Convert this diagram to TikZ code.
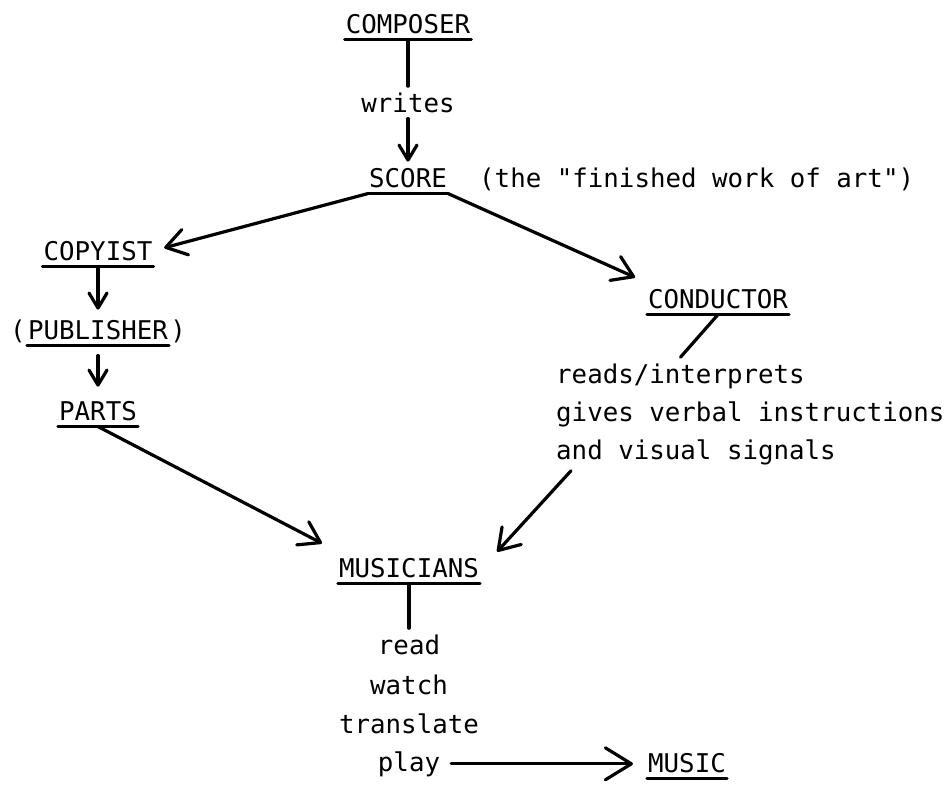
\documentclass[tikz,border=0pt]{standalone}
\usepackage{fontspec}
\setmonofont{DejaVu Sans Mono}
\usetikzlibrary{arrows.meta}
\newcommand{\plotfont}{\ttfamily\fontsize{25.8pt}{30pt}\selectfont}
\tikzset{
  word/.style={font=\plotfont, inner xsep=1pt, inner ysep=6pt, anchor=base},
  uline/.style={line width=3pt},
  link/.style={line width=3.2pt},
  arr/.style={line width=3.2pt, -{Straight Barb[length=20pt,width=26pt,round]}},
  sarr/.style={line width=3.2pt, -{Straight Barb[length=15pt,width=18pt,round]}},
  barr/.style={line width=3.2pt, -{Straight Barb[length=26pt,width=32pt,round]}},
}
\begin{document}
\begin{tikzpicture}[x=1pt, y=-1pt, line cap=round]
	\useasboundingbox (0,0) rectangle (948,785);
	% top
	\node[word] (composer) at (408,33) {COMPOSER};
	\node[word] (writes) at (408,112) {writes};
	\node[word] (score) at (408,187) {SCORE};
	\node[word, anchor=base west] (artnote) at (478,187) {(the "finished work of art")};
	% left branch
	\node[word] (copyist) at (98,260) {COPYIST};
	\node[word] (publisher) at (98,339) {PUBLISHER};
	\node[word, anchor=base east] (lparen) at (publisher.base west) {(};
	\node[word, anchor=base west] (rparen) at (publisher.base east) {)};
	\node[word] (parts) at (98,420) {PARTS};
	% right branch
	\node[word] (conductor) at (718,308) {CONDUCTOR};
	\node[word, anchor=base west] (reads) at (555,383) {reads/interprets};
	\node[word, anchor=base west] (gives) at (555,421) {gives verbal instructions};
	\node[word, anchor=base west] (signals) at (555,459) {and visual signals};
	% bottom
	\node[word] (musicians) at (409,577) {MUSICIANS};
	\node[word] (read) at (409,654) {read};
	\node[word] (watch) at (409,694) {watch};
	\node[word] (translate) at (409,733) {translate};
	\node[word] (play) at (409,771) {play};
	\node[word] (music) at (687,772) {MUSIC};
	% underlines
	\foreach \n in {composer,score,copyist,publisher,parts,conductor,musicians,music}
		\draw[uline] (\n.south west) -- (\n.south east);
	% connectors
	\draw[link] (composer.south) -- (writes.north);
	\draw[sarr] (writes.south) -- (score.north);
	\draw[arr, shorten >=11pt] (score.south west) -- (copyist.east);
	\draw[arr, shorten >=13pt] (score.south east) -- (conductor.north west);
	\draw[sarr, shorten >=4pt] (copyist.south) -- (publisher.north);
	\draw[sarr, shorten <=10pt, shorten >=8pt] (publisher.south) -- (parts.north);
	\draw[arr, shorten >=18pt] (parts.south) -- (musicians.north west);
	\draw[link] (conductor.south) -- (reads.north);
	\draw[arr] ([xshift=16pt]signals.south west) -- ([xshift=17pt]musicians.north east);
	\draw[link] (musicians.south) -- (read.north);
	\draw[barr, shorten <=10pt, shorten >=14pt] (play.east) -- (play.east -| music.west);
\end{tikzpicture}
\end{document}
